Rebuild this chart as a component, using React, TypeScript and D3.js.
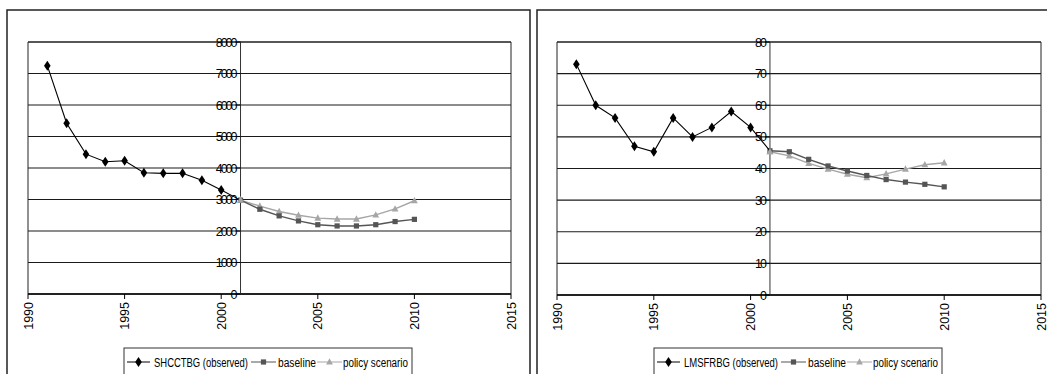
import React from "react";
import * as d3 from "d3";

const obsYears = [1991, 1992, 1993, 1994, 1995, 1996, 1997, 1998, 1999, 2000, 2001];
const projYears = [2001, 2002, 2003, 2004, 2005, 2006, 2007, 2008, 2009, 2010];
const xTicks = [1990, 1995, 2000, 2005, 2010, 2015];

const shcObserved = [7250, 5420, 4440, 4200, 4230, 3850, 3830, 3830, 3610, 3300, 2980];
const shcBaseline = [2980, 2690, 2480, 2320, 2200, 2160, 2160, 2200, 2300, 2370];
const shcPolicy = [2980, 2790, 2620, 2500, 2410, 2380, 2380, 2510, 2700, 2960];
const shcTicks = [0, 1000, 2000, 3000, 4000, 5000, 6000, 7000, 8000];

const lmsObserved = [73, 60, 56, 47, 45.3, 56, 50, 53, 58, 53, 45.6];
const lmsBaseline = [45.6, 45.3, 42.9, 40.8, 39.2, 37.8, 36.5, 35.7, 35, 34.2];
const lmsPolicy = [45.3, 44, 41.6, 39.8, 38.2, 37.1, 38.3, 39.8, 41.2, 41.8];
const lmsTicks = [0, 10, 20, 30, 40, 50, 60, 70, 80];

const FONT = "'Liberation Sans', Arial, sans-serif";

type PanelProps = {
  panelX: number;
  x0: number;
  x1: number;
  y0: number;
  y1: number;
  yMax: number;
  yTicks: number[];
  observed: number[];
  baseline: number[];
  policy: number[];
  obsLabel: string;
  legendX: number;
  panelRight: number;
};

function Diamond({ x, y, fill }: { x: number; y: number; fill: string }) {
  return <path d={`M${x},${y - 5}L${x + 3.3},${y}L${x},${y + 5}L${x - 3.3},${y}Z`} fill={fill} />;
}
function Square({ x, y, fill }: { x: number; y: number; fill: string }) {
  return <rect x={x - 2.6} y={y - 2.6} width={5.2} height={5.2} fill={fill} />;
}
function Tri({ x, y, fill }: { x: number; y: number; fill: string }) {
  return <path d={`M${x},${y - 3.8}L${x + 3.4},${y + 2.6}L${x - 3.4},${y + 2.6}Z`} fill={fill} />;
}

const OBS = "#000000";
const BASE = "#555555";
const POL = "#a6a6a6";

function Panel(p: PanelProps) {
  const x = d3.scaleLinear().domain([1990, 2015]).range([p.x0, p.x1]);
  const y = d3.scaleLinear().domain([0, p.yMax]).range([p.y1, p.y0]);
  const line = d3
    .line<[number, number]>()
    .x((d) => x(d[0]))
    .y((d) => y(d[1]));
  const obs = obsYears.map((yr, i) => [yr, p.observed[i]] as [number, number]);
  const base = projYears.map((yr, i) => [yr, p.baseline[i]] as [number, number]);
  const pol = projYears.map((yr, i) => [yr, p.policy[i]] as [number, number]);
  const axisX = x(2001);
  const ly = 348;
  const L = p.legendX;
  return (
    <g>
      <path
        d={`M${p.panelX},380V10H${p.panelRight}V380`}
        fill="none"
        stroke="#222"
        strokeWidth={1.5}
      />
      {p.yTicks.map((t) => (
        <line key={t} x1={p.x0} x2={p.x1} y1={y(t)} y2={y(t)} stroke="#1a1a1a" strokeWidth={1.1} />
      ))}
      <path d={`M${p.x0},${p.y1}V${p.y0}H${p.x1}V${p.y1}`} fill="none" stroke="#222" strokeWidth={1} />
      <line x1={p.x0} x2={p.x1} y1={p.y1} y2={p.y1} stroke="#000" strokeWidth={1.3} />
      {xTicks.map((t) => (
        <g key={t}>
          <line x1={x(t)} x2={x(t)} y1={p.y1} y2={p.y1 + 5} stroke="#000" />
          <text
            transform={`translate(${x(t) + 4.5},${p.y1 + 8}) rotate(-90)`}
            textAnchor="end"
            fontFamily={FONT}
            fontSize={12.5}
            fill="#000"
          >
            {t}
          </text>
        </g>
      ))}
      <line x1={axisX} x2={axisX} y1={p.y0} y2={p.y1} stroke="#333" strokeWidth={1} />
      {p.yTicks.map((t) => (
        <g key={t}>
          <line x1={axisX - 5} x2={axisX} y1={y(t)} y2={y(t)} stroke="#000" />
          <text
            x={axisX - 5}
            y={y(t) + 4.5}
            textAnchor="end"
            fontFamily={FONT}
            fontSize={12.5}
            letterSpacing={-2}
            fill="#000"
          >
            {t}
          </text>
        </g>
      ))}
      <path d={line(pol) ?? ""} fill="none" stroke={POL} strokeWidth={1.4} />
      {pol.map((d, i) => (
        <Tri key={i} x={x(d[0])} y={y(d[1])} fill={POL} />
      ))}
      <path d={line(base) ?? ""} fill="none" stroke={BASE} strokeWidth={1.4} />
      {base.map((d, i) => (
        <Square key={i} x={x(d[0])} y={y(d[1])} fill={BASE} />
      ))}
      <path d={line(obs) ?? ""} fill="none" stroke={OBS} strokeWidth={1.1} />
      {obs.slice(0, obs.length - 1).map((d, i) => (
        <Diamond key={i} x={x(d[0])} y={y(d[1])} fill={OBS} />
      ))}
      <Tri x={x(2001)} y={y(p.policy[0])} fill={POL} />
      <rect x={L} y={ly} width={288} height={40} fill="#fff" stroke="#333" strokeWidth={1} />
      <g fontFamily={FONT} fontSize={12.5} fill="#000">
        <line x1={L + 3} x2={L + 26} y1={ly + 14} y2={ly + 14} stroke={OBS} />
        <Diamond x={L + 14.5} y={ly + 14} fill={OBS} />
        <text x={L + 30} y={ly + 18.5} textLength={94} lengthAdjust="spacingAndGlyphs">
          {p.obsLabel}
        </text>
        <line x1={L + 127} x2={L + 152} y1={ly + 14} y2={ly + 14} stroke={BASE} />
        <Square x={L + 139.5} y={ly + 14} fill={BASE} />
        <text x={L + 154} y={ly + 18.5} textLength={38} lengthAdjust="spacingAndGlyphs">
          baseline
        </text>
        <line x1={L + 193} x2={L + 218} y1={ly + 14} y2={ly + 14} stroke={POL} />
        <Tri x={L + 205.5} y={ly + 14} fill={POL} />
        <text x={L + 219} y={ly + 18.5} textLength={65} lengthAdjust="spacingAndGlyphs">
          policy scenario
        </text>
      </g>
    </g>
  );
}

export default function App() {
  return (
    <div style={{ position: "absolute", left: 0, top: 0 }}>
      <svg width={1047} height={374} style={{ display: "block", background: "#fff" }}>
        <rect width={1047} height={374} fill="#fff" />
        <Panel
          panelX={7}
          panelRight={530}
          x0={28}
          x1={511}
          y0={42}
          y1={294}
          yMax={8000}
          yTicks={shcTicks}
          observed={shcObserved}
          baseline={shcBaseline}
          policy={shcPolicy}
          obsLabel="SHCCTBG (observed)"
          legendX={124}
        />
        <Panel
          panelX={537}
          panelRight={1060}
          x0={557}
          x1={1041}
          y0={42}
          y1={295}
          yMax={80}
          yTicks={lmsTicks}
          observed={lmsObserved}
          baseline={lmsBaseline}
          policy={lmsPolicy}
          obsLabel="LMSFRBG (observed)"
          legendX={654}
        />
      </svg>
    </div>
  );
}
